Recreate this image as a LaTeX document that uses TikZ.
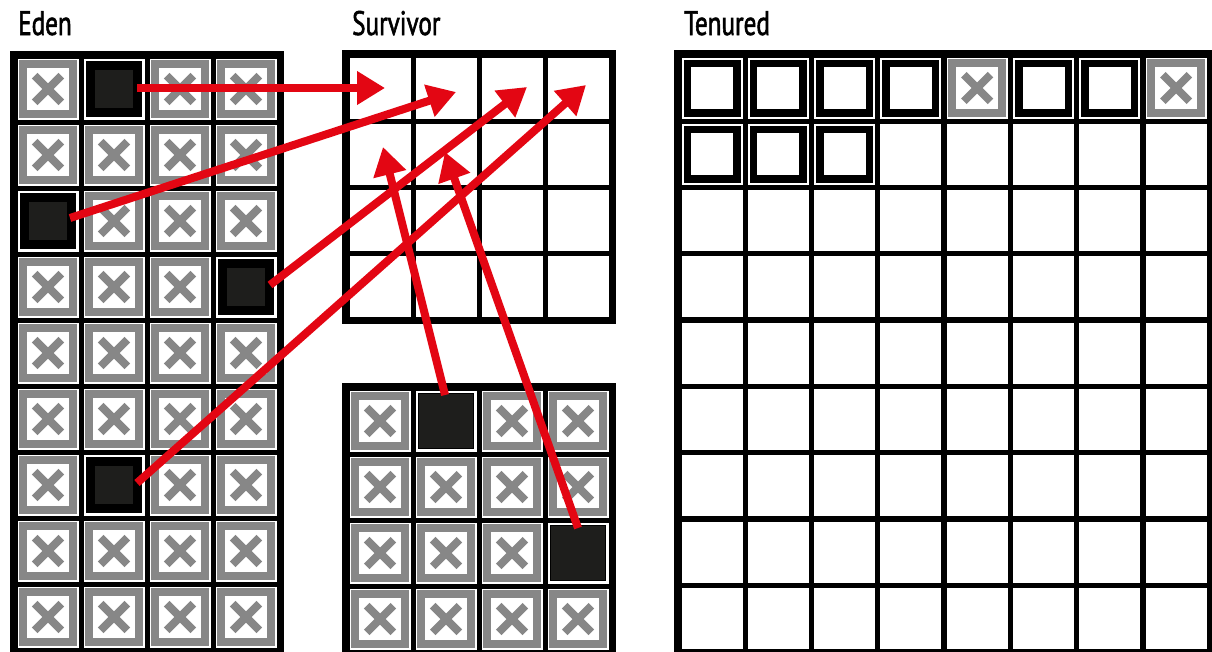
\documentclass[tikz,border=0pt]{standalone}
\usepackage{fontspec}
\setsansfont[FakeStretch=0.74,FakeBold=1.6]{PT Sans}
\usetikzlibrary{arrows.meta,calc}
\definecolor{redA}{RGB}{227,6,19}
\definecolor{grayX}{RGB}{135,135,135}
\definecolor{darkC}{RGB}{30,30,28}
\tikzset{
  cellbox/.style={rectangle, fill=white, minimum size=61pt, inner sep=0pt, outer sep=0pt},
  emptycell/.style={cellbox},
  deadcell/.style={cellbox, path picture={
      \draw[grayX, line width=7.7pt]
        ($(path picture bounding box.south west)+(5.5pt,5.5pt)$) rectangle
        ($(path picture bounding box.north east)-(5.5pt,5.5pt)$);
      \draw[grayX, line width=7.8pt]
        ($(path picture bounding box.center)+(-13.3pt,-13.3pt)$) -- ++(26.6pt,26.6pt);
      \draw[grayX, line width=7.8pt]
        ($(path picture bounding box.center)+(-13.3pt,13.3pt)$) -- ++(26.6pt,-26.6pt);
  }},
  liveE/.style={cellbox, path picture={
      \fill[black]
        ($(path picture bounding box.south west)+(2.5pt,2.5pt)$) rectangle
        ($(path picture bounding box.north east)-(2.5pt,2.5pt)$);
      \fill[darkC]
        ($(path picture bounding box.south west)+(11.5pt,11.5pt)$) rectangle
        ($(path picture bounding box.north east)-(11.5pt,11.5pt)$);
  }},
  liveS/.style={cellbox, path picture={
      \fill[black]
        ($(path picture bounding box.south west)+(2.5pt,2.5pt)$) rectangle
        ($(path picture bounding box.north east)-(2.5pt,2.5pt)$);
      \fill[darkC]
        ($(path picture bounding box.south west)+(3.5pt,3.5pt)$) rectangle
        ($(path picture bounding box.north east)-(3.5pt,3.5pt)$);
  }},
  liveT/.style={cellbox, path picture={
      \draw[black, line width=7.5pt]
        ($(path picture bounding box.south west)+(5.75pt,5.75pt)$) rectangle
        ($(path picture bounding box.north east)-(5.75pt,5.75pt)$);
  }},
  ttl/.style={font=\sffamily\fontsize{34}{40}\selectfont, inner sep=0pt, anchor=base west},
  arr/.style={draw=redA, line width=8pt, -{Triangle[length=28pt,width=32pt,fill=redA]}},
}
\begin{document}
\begin{tikzpicture}[x=1pt,y=-1pt]
\useasboundingbox (0,0) rectangle (1212,651);
\clip (0,0) rectangle (1212,651);
\fill[white] (0,0) rectangle (1212,651);

% titles
\node[ttl] (teden) at (18,35) {Eden};
\node[ttl] (tsurv) at (352,35) {Survivor};
\node[ttl] (tten) at (684,35) {Tenured};

% Eden
\fill[black] (10,51) rectangle ++(274,604);
\foreach \r in {1,...,9}{
  \foreach \c in {1,...,4}{
    \edef\st{deadcell}
    \ifnum\r\c=12 \edef\st{liveE}\fi
    \ifnum\r\c=31 \edef\st{liveE}\fi
    \ifnum\r\c=44 \edef\st{liveE}\fi
    \ifnum\r\c=72 \edef\st{liveE}\fi
    \node[\st] (e-\r-\c) at ({48+66*(\c-1)},{89+66*(\r-1)}) {};
  }
}

% Survivor top
\fill[black] (342,50) rectangle ++(274,274);
\foreach \r in {1,...,4}{
  \foreach \c in {1,...,4}{
    \node[emptycell] (st-\r-\c) at ({380+66*(\c-1)},{88+66*(\r-1)}) {};
  }
}

% Survivor bottom
\fill[black] (342,383) rectangle ++(274,274);
\foreach \r in {1,...,4}{
  \foreach \c in {1,...,4}{
    \edef\st{deadcell}
    \ifnum\r\c=12 \edef\st{liveS}\fi
    \ifnum\r\c=34 \edef\st{liveS}\fi
    \node[\st] (sb-\r-\c) at ({380+66*(\c-1)},{421+66*(\r-1)}) {};
  }
}

% Tenured
\fill[black] (674,50) rectangle ++(540.4,606.7);
\foreach \r in {1,...,9}{
  \foreach \c in {1,...,8}{
    \edef\st{emptycell}
    \ifnum\r=1 \edef\st{liveT}\fi
    \ifnum\r\c=15 \edef\st{deadcell}\fi
    \ifnum\r\c=18 \edef\st{deadcell}\fi
    \ifnum\r\c=21 \edef\st{liveT}\fi
    \ifnum\r\c=22 \edef\st{liveT}\fi
    \ifnum\r\c=23 \edef\st{liveT}\fi
    \node[\st] (t-\r-\c) at ({712+66.3*(\c-1)},{88+66.3*(\r-1)}) {};
  }
}

% arrows
\draw[arr] ($(e-1-2.center)+(23,-1)$) -- ($(st-1-1.center)+(5,0)$);
\draw[arr] ($(e-3-1.center)+(22,-3)$) -- ($(st-1-2.center)+(10,4)$);
\draw[arr] ($(e-4-4.center)+(24,-2)$) -- ($(st-1-3.center)+(15,-1)$);
\draw[arr] ($(e-7-2.center)+(23,-2)$) -- ($(st-1-4.center)+(8,-3)$);
\draw[arr] ($(sb-1-2.center)+(-1,-26)$) -- ($(st-2-1.center)+(3,-7)$);
\draw[arr] ($(sb-3-4.center)+(0,-25)$) -- ($(st-2-2.center)+(-1,-2)$);
\end{tikzpicture}
\end{document}
